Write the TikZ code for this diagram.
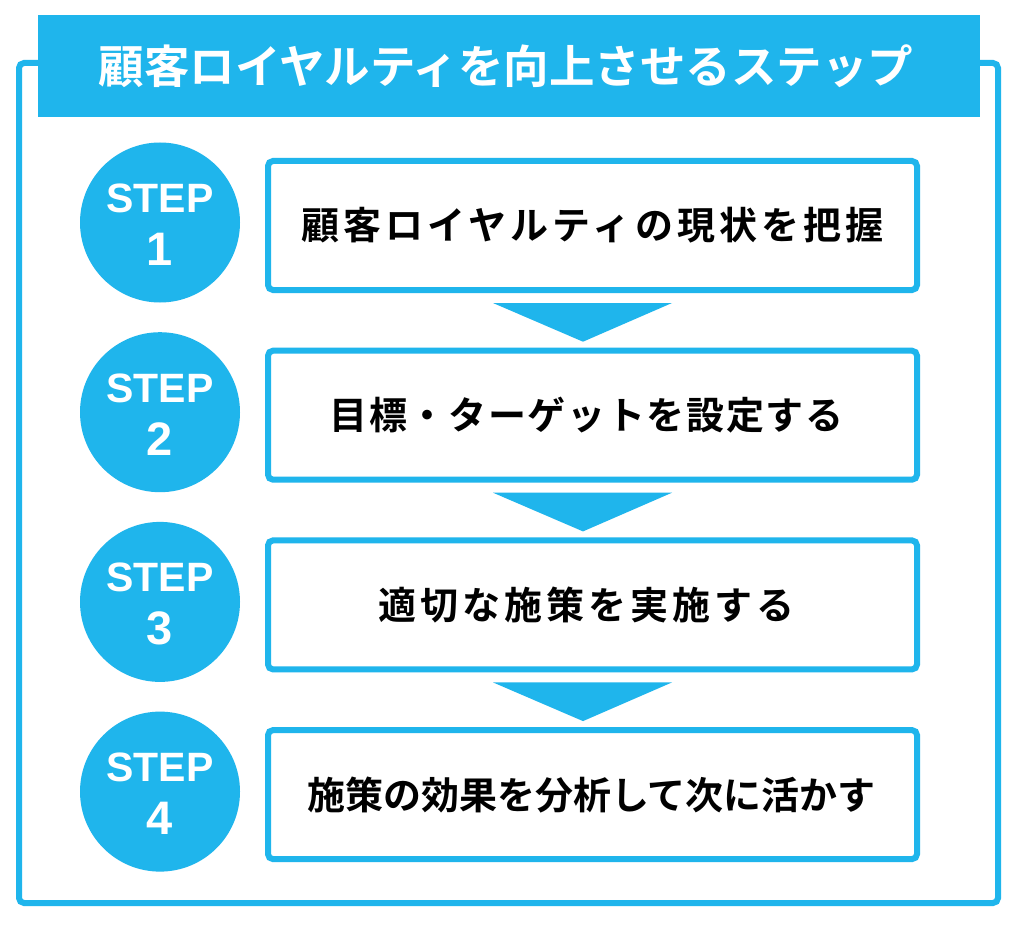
\documentclass[tikz,border=0pt]{standalone}
\usepackage{fontspec}
\newfontfamily\jp{Noto Sans CJK JP}[BoldFont=* Bold]
\newfontfamily\lat{Liberation Sans}
\usetikzlibrary{calc}
\definecolor{cy}{HTML}{1FB5EC}
\begin{document}
\begin{tikzpicture}[x=1pt,y=-1pt,
  frame/.style={draw=cy,line width=6pt,rounded corners=5pt},
  stepbox/.style={draw=cy,line width=6pt,rounded corners=5pt,fill=white,minimum width=649pt,minimum height=129pt,inner sep=0pt,font=\jp\bfseries\fontsize{38}{40}\selectfont,text=black},
  stepcircle/.style={circle,fill=cy,minimum size=160pt,inner sep=0pt},
  steplbl/.style={anchor=base,text=white,inner sep=0pt,font=\lat\bfseries\fontsize{41}{44}\selectfont},
  stepnum/.style={anchor=base,text=white,inner sep=0pt,font=\lat\bfseries\fontsize{47}{50}\selectfont},
  arrowtri/.style={fill=cy}]
\useasboundingbox (0,0) rectangle (1024,928);
\fill[white] (0,0) rectangle (1024,928);
\draw[frame] (19,63) rectangle (998,903);
\node[fill=cy,minimum width=942pt,minimum height=102pt,inner sep=0pt] (title) at (509,66) {};
\node[text=white,inner sep=0pt,font=\jp\bfseries\fontsize{45.5}{48}\selectfont] (titletext) at (506,66) {顧客ロイヤルティを向上させるステップ};
\foreach \k/\ls/\dx/\txt in {1/11/0/顧客ロイヤルティの現状を把握,2/4.4/-6/目標・ターゲットを設定する,3/10.8/-6/適切な施策を実施する,4/0/-1/施策の効果を分析して次に活かす}{
  \pgfmathsetmacro{\yy}{225.5+(\k-1)*189.7}
  \node[stepbox] (b\k) at (592.5,\yy) {};
  \node[inner sep=0pt,font=\jp\bfseries\fontsize{38}{40}\selectfont\addfontfeature{LetterSpace=\ls}] (bt\k) at ($(b\k.center)+(\dx,0)$) {\txt};
  \node[stepcircle] (c\k) at (160,\yy-3) {};
  \node[steplbl] (s\k) at ($(c\k.center)+(0,-10)$) {STEP};
  \node[stepnum] (n\k) at ($(c\k.center)+(0,43)$) {\k};
}
\foreach \a/\b in {1/2,2/3,3/4}{
  \fill[arrowtri] ($(b\a.south)+(-99.5,10)$) coordinate (t\a l) -- ($(b\a.south)+(79.5,10)$) coordinate (t\a r) -- ($(b\b.north)+(-9.5,-6)$) coordinate (t\a t) -- cycle;
}
\end{tikzpicture}
\end{document}
